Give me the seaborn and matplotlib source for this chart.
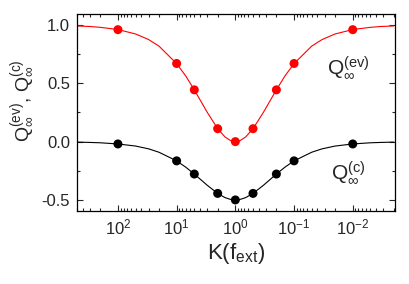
import numpy as np
import pandas as pd
import matplotlib
matplotlib.use("Agg")
import matplotlib.pyplot as plt
import matplotlib.ticker as mticker
import seaborn as sns

# points (markers)
k_pts = [100, 10, 5, 2, 1, 0.5, 0.2, 0.1, 0.01]
q_ev_pts = [0.96, 0.67, 0.444, 0.111, 0.0, 0.111, 0.444, 0.67, 0.96]
q_c_pts = [-0.02, -0.165, -0.278, -0.444, -0.5, -0.444, -0.278, -0.165, -0.02]

# smooth curves
k_curve = [500, 300, 200, 100, 50, 30, 20, 10, 7, 5, 3, 2, 1.5, 1.2, 1,
           1 / 1.2, 1 / 1.5, 0.5, 1 / 3, 0.2, 1 / 7, 0.1, 0.05, 1 / 30, 0.02, 0.01,
           0.005, 1 / 300, 0.002]
q_ev_curve = [0.992, 0.987, 0.980, 0.961, 0.923, 0.875, 0.819, 0.669, 0.563, 0.444,
              0.25, 0.111, 0.04, 0.008, 0.0, 0.008, 0.04, 0.111, 0.25, 0.444, 0.563,
              0.669, 0.819, 0.875, 0.923, 0.961, 0.980, 0.987, 0.992]
q_c_curve = [-0.004, -0.007, -0.010, -0.020, -0.038, -0.062, -0.091, -0.165, -0.219,
             -0.278, -0.375, -0.444, -0.48, -0.496, -0.5, -0.496, -0.48, -0.444, -0.375,
             -0.278, -0.219, -0.165, -0.091, -0.062, -0.038, -0.020, -0.010, -0.007,
             -0.004]

sns.set_style("ticks")
plt.rcParams["font.family"] = ["Liberation Sans", "DejaVu Sans"]
plt.rcParams["mathtext.fontset"] = "custom"
plt.rcParams["mathtext.rm"] = "Liberation Sans"
plt.rcParams["mathtext.it"] = "Liberation Sans"
plt.rcParams["mathtext.bf"] = "Liberation Sans:bold"
plt.rcParams["axes.unicode_minus"] = False

curve = pd.DataFrame({"K": k_curve, "ev": q_ev_curve, "c": q_c_curve})
pts = pd.DataFrame({"K": k_pts, "ev": q_ev_pts, "c": q_c_pts})

fig = plt.figure(figsize=(4.09, 2.84), dpi=100)
ax = fig.add_axes([0.188, 0.257, 0.778, 0.694])

sns.lineplot(data=curve, x="K", y="ev", color="#ff0000", lw=0.8, sort=False, ax=ax)
sns.lineplot(data=curve, x="K", y="c", color="black", lw=0.8, sort=False, ax=ax)
sns.scatterplot(data=pts, x="K", y="ev", color="#ff0000", s=42, edgecolor="none", ax=ax, zorder=3)
sns.scatterplot(data=pts, x="K", y="c", color="black", s=42, edgecolor="none", ax=ax, zorder=3)

ax.set_xscale("log")
ax.set_xlim(500, 0.0019)
ax.set_ylim(-0.595, 1.095)
ax.xaxis.set_major_locator(mticker.LogLocator(base=10, numticks=10))
ax.xaxis.set_minor_locator(mticker.LogLocator(base=10, subs=np.arange(2, 10), numticks=20))
ax.xaxis.set_minor_formatter(mticker.NullFormatter())
ax.yaxis.set_major_locator(mticker.MultipleLocator(0.5))
ax.yaxis.set_minor_locator(mticker.MultipleLocator(0.25))
ax.yaxis.set_major_formatter(mticker.FormatStrFormatter("%.1f"))

ax.tick_params(which="both", direction="in", top=True, right=True, labelsize=12, width=0.8)
ax.tick_params(which="major", length=4, pad=5)
ax.tick_params(which="minor", length=2)
for sp in ax.spines.values():
    sp.set_linewidth(0.9)
    sp.set_color("black")

ax.set_xlabel(r"K(f$_{\mathrm{ext}}$)", fontsize=16, labelpad=2)
ax.set_ylabel(r"Q$_\infty^{(ev)}$, Q$_\infty^{(c)}$", fontsize=14)
ax.yaxis.set_label_coords(-0.125, 0.56)

ax.text(0.012, 0.63, r"Q$_\infty^{(ev)}$", fontsize=15, ha="center", va="center")
ax.text(0.012, -0.27, r"Q$_\infty^{(c)}$", fontsize=15, ha="center", va="center")

fig.savefig("out.png", dpi=100)
